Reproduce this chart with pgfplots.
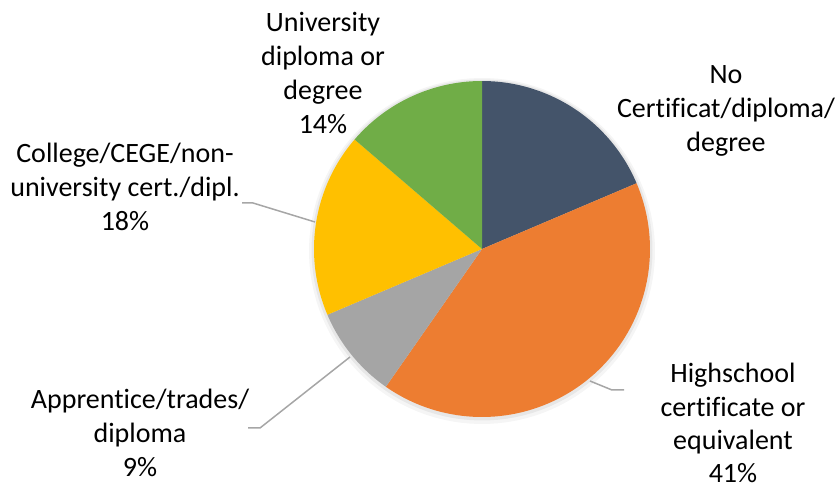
\documentclass[border=0pt]{standalone}
\usepackage{pgfplots}
\pgfplotsset{compat=1.18}
\usepackage{pgfplotstable}
\usepackage{fontspec}
\setmainfont{Carlito}[Ligatures=NoCommon]
\definecolor{nocert}{HTML}{44546A}
\definecolor{hs}{HTML}{ED7D31}
\definecolor{appr}{HTML}{A5A5A5}
\definecolor{coll}{HTML}{FFC000}
\definecolor{univ}{HTML}{70AD47}
\definecolor{leader}{HTML}{A6A6A6}
\pgfplotstableread{
value color
18.6 nocert
41.1 hs
8.9 appr
17.7 coll
13.7 univ
}\piedata
\begin{document}
\begin{tikzpicture}
\useasboundingbox (0,0) rectangle (418.5pt,244pt);
\begin{axis}[scale only axis, width=418.5pt, height=244pt,
  xmin=0, xmax=837, ymin=0, ymax=488, hide axis, clip=false]
% soft shadow
\addplot[fill=black, fill opacity=0.04, draw=none, domain=0:360, samples=120] ({482+173*cos(x)},{237+173*sin(x)}) -- cycle;
\addplot[fill=black, fill opacity=0.06, draw=none, domain=0:360, samples=120] ({482+170.5*cos(x)},{238+170.5*sin(x)}) -- cycle;
\pgfmathsetmacro\cum{0}
\pgfplotsforeachungrouped \i in {0,...,4}{
  \pgfplotstablegetelem{\i}{value}\of\piedata \let\sliceval\pgfplotsretval
  \pgfplotstablegetelem{\i}{color}\of\piedata \let\slicecolor\pgfplotsretval
  \pgfmathsetmacro\angA{90-3.6*\cum}
  \pgfmathsetmacro\angB{90-3.6*(\cum+\sliceval)}
  \edef\temp{\noexpand\addplot[fill=\slicecolor, draw=none, domain=\angB:\angA, samples=80] ({482+168*cos(x)},{239+168*sin(x)}) -- (axis cs:482,239) -- cycle;}
  \temp
  \pgfmathsetmacro\cum{\cum+\sliceval}
}
% leader lines
\addplot[leader, line width=0.75pt] coordinates {(242,285) (253,285) (315,266)};
\addplot[leader, line width=0.75pt] coordinates {(248,60) (260,60) (350,131)};
\addplot[leader, line width=0.75pt] coordinates {(590,107) (612,98) (624,98)};
% labels
\node[align=center, font=\fontsize{14}{17}\selectfont] at (axis cs:323,415) {University\\diploma or\\degree\\14\%};
\node[align=center, font=\fontsize{14}{17}\selectfont] at (axis cs:726,377) {No\\Certificat/diploma/\\degree};
\node[align=center, font=\fontsize{14}{16.6}\selectfont] at (axis cs:733,65) {Highschool\\certificate or\\equivalent\\41\%};
\node[align=center, font=\fontsize{14}{17}\selectfont] at (axis cs:140,55) {Apprentice/trades/\\diploma\\9\%};
\node[align=center, font=\fontsize{14}{17}\selectfont] at (axis cs:125,301) {College/CEGE/non-\\university cert./dipl.\\18\%};
\end{axis}
\end{tikzpicture}
\end{document}
